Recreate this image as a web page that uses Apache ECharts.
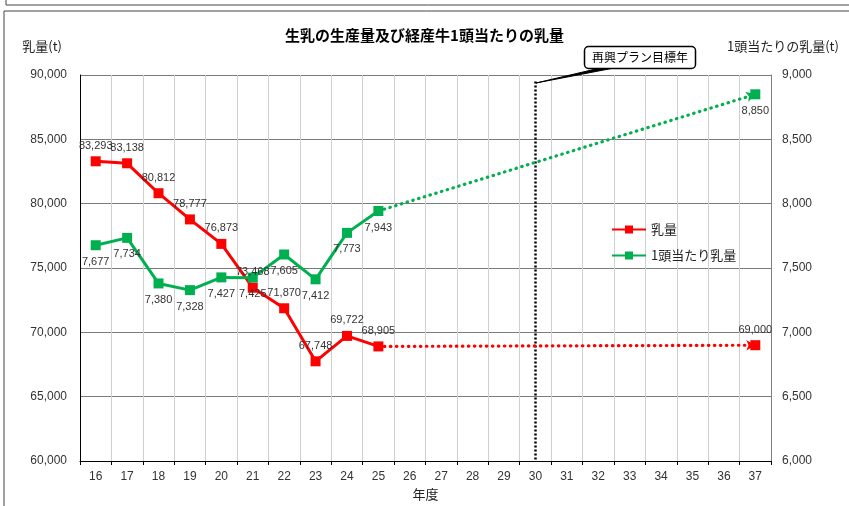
<!DOCTYPE html>
<html>
<head>
<meta charset="utf-8">
<script src="https://cdn.jsdelivr.net/npm/echarts@6/dist/echarts.min.js"></script>
<style>
  html, body { margin: 0; padding: 0; background: #fff; }
  #chart { width: 849px; height: 506px; }
</style>
</head>
<body>
<div id="chart"></div>
<script>
// Fiscal years (Heisei) on the category axis
const years = ['16','17','18','19','20','21','22','23','24','25','26','27','28','29','30','31','32','33','34','35','36','37'];

// Raw milk production (t), actual results FY16–25
const milkVolume = [83293, 83138, 80812, 78777, 76873, 73468, 71870, 67748, 69722, 68905];
// Milk yield per milking cow (t), actual results FY16–25
const yieldPerCow = [7677, 7734, 7380, 7328, 7427, 7425, 7605, 7412, 7773, 7943];

// Target values for FY37
const milkTarget = 69000;
const yieldTarget = 8850;

// Target year of the recovery plan
const planYear = '30';

const FONT = '"Liberation Sans", "Noto Sans CJK JP", sans-serif';
const JP = '"Noto Sans CJK JP", sans-serif';
const RED = '#ff0000';
const GREEN = '#00b050';

const fmt = v => Math.round(v).toLocaleString('en-US');

function padded(arr) {
  const out = arr.slice();
  while (out.length < years.length) out.push(null);
  return out;
}

// Projection series: only the FY37 end point carries a marker
function projection(lastActual, target) {
  const out = years.map(() => null);
  out[milkVolume.length - 1] = { value: lastActual, symbol: 'none', label: { show: false } };
  out[years.length - 1] = target;
  return out;
}

const chart = echarts.init(document.getElementById('chart'), null, { renderer: 'canvas' });

const dotted = color => ({ color: color, type: [0.5, 5.5], width: 3.2, cap: 'round' });

const option = {
  animation: false,
  textStyle: { fontFamily: FONT },
  title: {
    text: '生乳の生産量及び経産牛1頭当たりの乳量',
    left: 'center',
    top: 23,
    textStyle: { fontFamily: JP, fontSize: 15, fontWeight: 'bold', color: '#000' }
  },
  legend: {
    orient: 'vertical',
    left: 606,
    top: 218,
    itemWidth: 34,
    itemHeight: 10,
    itemGap: 13,
    data: ['乳量', '1頭当たり乳量'],
    textStyle: { fontFamily: JP, fontSize: 13, color: '#222' }
  },
  grid: { left: 80, right: 78, top: 75, bottom: 41, containLabel: false },
  xAxis: {
    type: 'category',
    data: years,
    boundaryGap: true,
    name: '年度',
    nameLocation: 'middle',
    nameGap: 27,
    nameTextStyle: { fontFamily: JP, fontSize: 13, color: '#222' },
    axisLine: { lineStyle: { color: '#000', width: 1 } },
    axisTick: { show: true, length: 4, lineStyle: { color: '#000' } },
    axisLabel: { fontSize: 12, color: '#333', margin: 10 },
    splitLine: { show: true, lineStyle: { color: '#cfcfcf', width: 1 } }
  },
  yAxis: [
    {
      type: 'value',
      min: 60000, max: 90000, interval: 5000,
      name: '乳量(t)',
      nameLocation: 'end',
      nameGap: 22,
      nameTextStyle: { fontFamily: JP, fontSize: 13, color: '#222', align: 'right', padding: [0, 18, 0, 0] },
      axisLine: { show: true, lineStyle: { color: '#000' } },
      axisTick: { show: false },
      axisLabel: { fontSize: 12, color: '#333', margin: 13, formatter: v => fmt(v) },
      splitLine: { show: true, lineStyle: { color: '#7a7a7a', width: 1 } }
    },
    {
      type: 'value',
      min: 6000, max: 9000, interval: 500,
      name: '1頭当たりの乳量(t)',
      nameLocation: 'end',
      nameGap: 22,
      nameTextStyle: { fontFamily: JP, fontSize: 13, color: '#222', align: 'left', padding: [0, 0, 0, -44] },
      axisLine: { show: true, lineStyle: { color: '#808080' } },
      axisTick: { show: false },
      axisLabel: { fontSize: 12, color: '#333', margin: 11, formatter: v => fmt(v) },
      splitLine: { show: false }
    }
  ],
  series: [
    {
      name: '乳量',
      type: 'line',
      data: padded(milkVolume),
      yAxisIndex: 0,
      color: RED,
      symbol: 'rect',
      symbolSize: 10,
      lineStyle: { width: 3, color: RED },
      itemStyle: { color: RED },
      label: {
        show: true, position: 'top', distance: 5,
        fontSize: 11, color: '#333',
        formatter: p => fmt(p.value)
      },
      z: 3,
      markLine: {
        silent: true,
        symbol: ['none', 'none'],
        label: { show: false },
        lineStyle: { color: '#000', type: [2, 2], width: 2.5 },
        data: [[{ coord: [planYear, 89500] }, { coord: [planYear, 60000] }]]
      }
    },
    {
      name: '1頭当たり乳量',
      type: 'line',
      data: padded(yieldPerCow),
      yAxisIndex: 1,
      color: GREEN,
      symbol: 'rect',
      symbolSize: 10,
      lineStyle: { width: 3, color: GREEN },
      itemStyle: { color: GREEN },
      label: {
        show: true, position: 'bottom', distance: 6,
        fontSize: 11, color: '#333',
        formatter: p => fmt(p.value)
      },
      z: 3
    },
    {
      name: '乳量目標',
      type: 'line',
      data: projection(milkVolume[milkVolume.length - 1], milkTarget),
      yAxisIndex: 0,
      connectNulls: true,
      symbol: 'rect',
      symbolSize: 10,
      itemStyle: { color: RED },
      lineStyle: { width: 0, color: RED },
      label: {
        show: true, position: 'top', distance: 5,
        fontSize: 11, color: '#333',
        formatter: p => fmt(p.value)
      },
      markLine: {
        silent: true,
        symbol: ['none', 'arrow'],
        symbolSize: [8, 9],
        label: { show: false },
        lineStyle: dotted(RED),
        data: [[
          { coord: ['25', milkVolume[milkVolume.length - 1]] },
          { coord: ['37', milkTarget] }
        ]]
      },
      z: 2
    },
    {
      name: '1頭当たり乳量目標',
      type: 'line',
      data: projection(yieldPerCow[yieldPerCow.length - 1], yieldTarget),
      yAxisIndex: 1,
      connectNulls: true,
      symbol: 'rect',
      symbolSize: 10,
      itemStyle: { color: GREEN },
      lineStyle: { width: 0, color: GREEN },
      label: {
        show: true, position: 'bottom', distance: 6,
        fontSize: 11, color: '#333',
        formatter: p => fmt(p.value)
      },
      markLine: {
        silent: true,
        symbol: ['none', 'arrow'],
        symbolSize: [8, 9],
        label: { show: false },
        lineStyle: dotted(GREEN),
        data: [[
          { coord: ['25', yieldPerCow[yieldPerCow.length - 1]] },
          { coord: ['37', yieldTarget] }
        ]]
      },
      z: 2
    }
  ],
  graphic: [
    // frame of the panel above and of this chart panel
    { type: 'polyline', shape: { points: [[6, 0], [6, 5], [849, 5]] }, style: { stroke: '#444', lineWidth: 1, fill: null } },
    { type: 'polyline', shape: { points: [[4, 506], [4, 11], [849, 11]] }, style: { stroke: '#444', lineWidth: 1, fill: null } },
    // plot area top border
    { type: 'line', shape: { x1: 80, y1: 75.5, x2: 771, y2: 75.5 }, style: { stroke: '#808080', lineWidth: 1 } },
    // callout for the plan target year
    { type: 'polygon', shape: { points: [[600, 68], [614, 68], [536, 83]] }, style: { fill: '#000', stroke: '#000', lineWidth: 1 }, z: 20 },
    {
      type: 'rect',
      shape: { x: 584.5, y: 46.5, width: 111, height: 22, r: 4 },
      style: { fill: '#fff', stroke: '#000', lineWidth: 1.5 },
      z: 21
    },
    {
      type: 'text',
      x: 640, y: 57.5,
      style: { text: '再興プラン目標年', fontFamily: JP, fontSize: 12, fill: '#000', align: 'center', verticalAlign: 'middle' },
      z: 22
    }
  ]
};

chart.setOption(option);
</script>
</body>
</html>
